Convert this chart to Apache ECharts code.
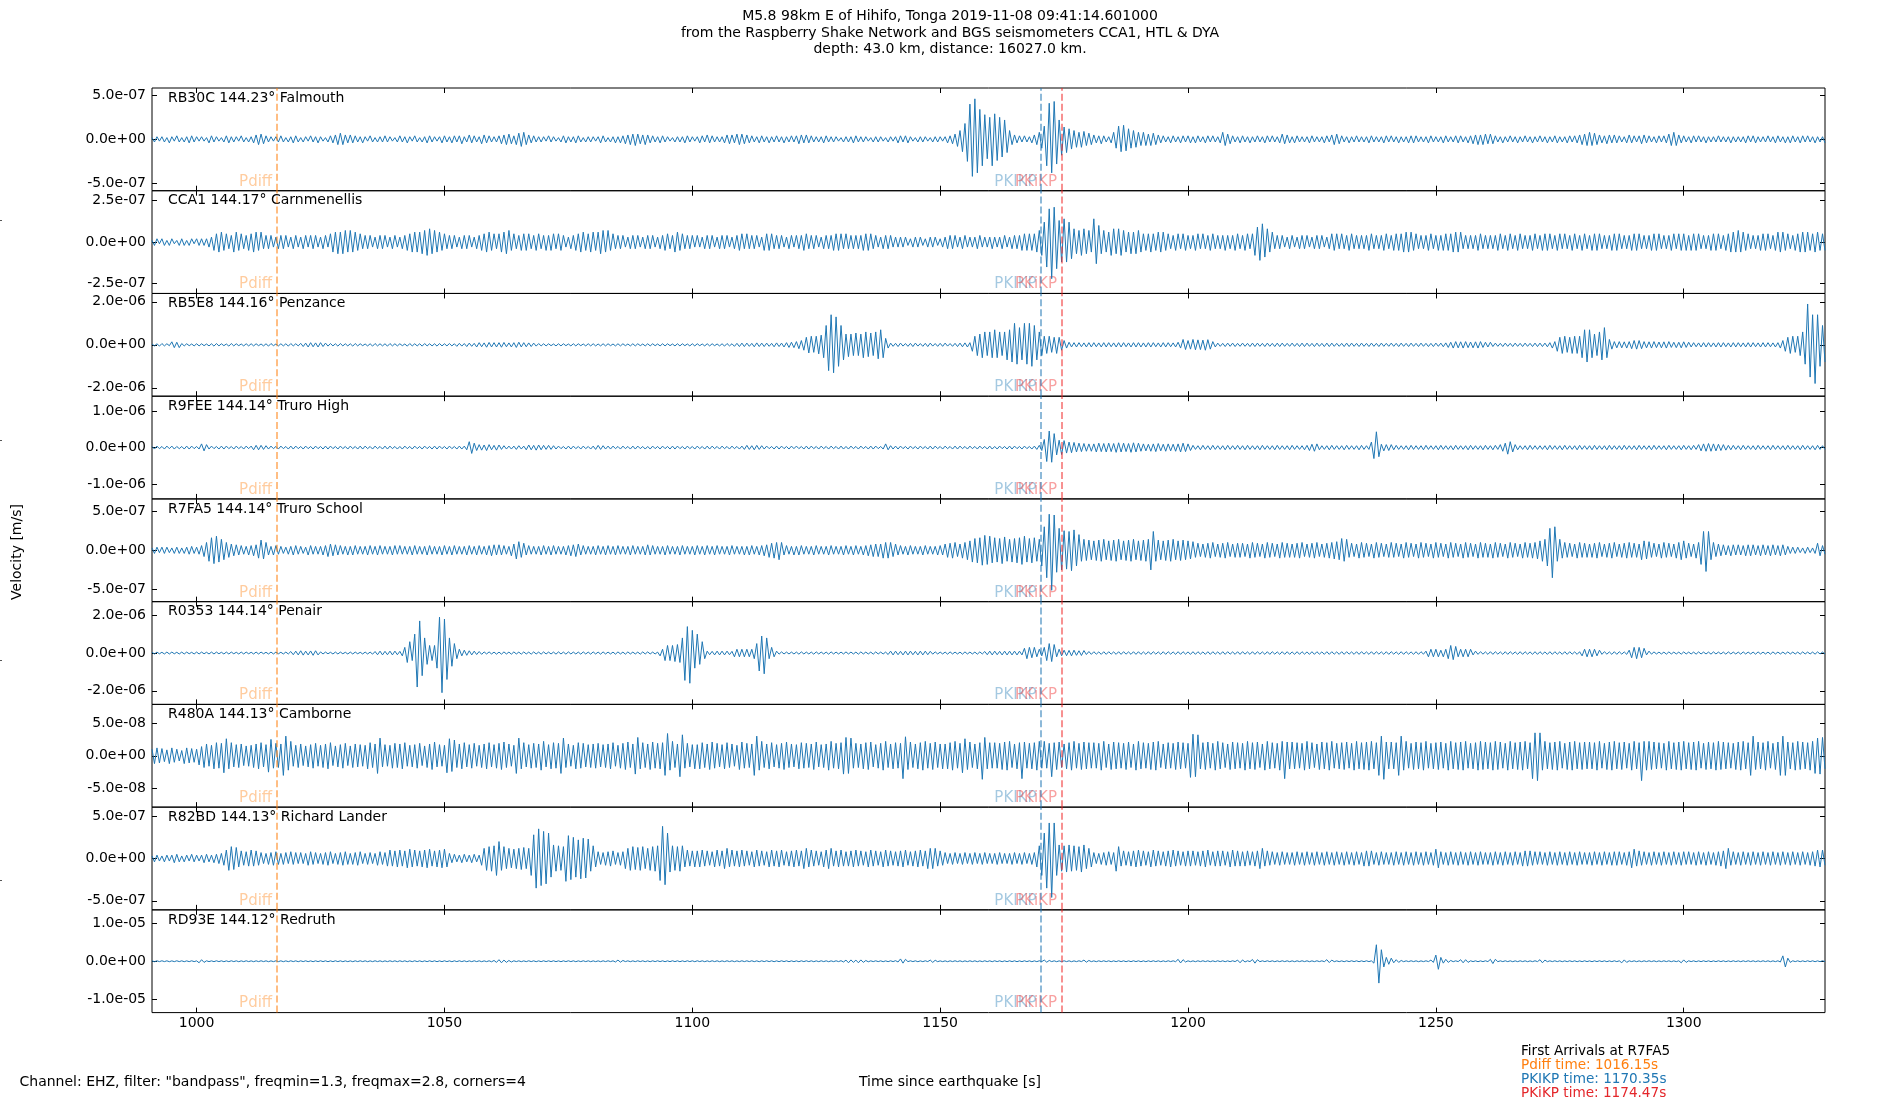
<!DOCTYPE html>
<html>
<head>
<meta charset="utf-8">
<script src="https://cdn.jsdelivr.net/npm/echarts@6/dist/echarts.min.js"></script>
<style>html,body{margin:0;padding:0;background:#fff}#c{width:1900px;height:1100px}</style>
</head>
<body>
<div id="c"></div>
<script>
// ---------- chart data ----------
const stations  = ['RB30C','CCA1','RB5E8','R9FEE','R7FA5','R0353','R480A','R82BD','RD93E'];
const distances = ['144.23','144.17','144.16','144.14','144.14','144.14','144.13','144.13','144.12'];
const places    = ['Falmouth','Carnmenellis','Penzance','Truro High','Truro School','Penair','Camborne','Richard Lander','Redruth'];
const yLimits   = [5.83e-7, 3.09e-7, 2.39e-6, 1.40e-6, 6.55e-7, 2.72e-6, 7.85e-8, 6.07e-7, 1.34e-5];
const yTicks    = [5e-7, 2.5e-7, 2e-6, 1e-6, 5e-7, 2e-6, 5e-8, 5e-7, 1e-5];
const traceUnits= [1e-8, 1e-8, 1e-7, 1e-8, 1e-8, 1e-7, 1e-9, 1e-8, 1e-7];
const xTicks    = [1000,1050,1100,1150,1200,1250,1300];
const xMin = 991, xMax = 1328.5;
const traceStart = 991;   // time of first sample [s]
const traceStep = 0.5;    // seconds between samples
const phaseNames = ['Pdiff','PKIKP','PKiKP'];
const phaseTimes = [1016.15, 1170.35, 1174.47];
const firstArrivalStation = 'R7FA5';

// RB30C (units 1e-8 m/s), one row = 10 s
const rb30c = [
2,-3,3,-2,3,-3,2,-4,3,-2,4,-3,2,-3,3,-4,4,-3,3,-2,
3,-2,2,-4,4,-3,3,-2,2,-3,4,-4,3,-3,3,-2,4,-3,2,-3,
3,-4,5,-6,6,-5,4,-3,3,-2,3,-3,4,-3,2,-3,3,-4,4,-3,
2,-3,3,-2,4,-3,3,-4,3,-2,2,-3,4,-4,5,-6,7,-6,5,-4,
5,-4,4,-3,3,-4,3,-2,4,-3,2,-3,3,-3,4,-3,3,-2,2,-3,
4,-3,3,-4,3,-2,4,-3,2,-3,3,-4,4,-3,3,-2,3,-4,4,-3,
3,-4,4,-3,4,-5,3,-3,5,-4,4,-3,3,-5,5,-4,4,-3,3,-3,
4,-5,5,-6,6,-5,4,-6,7,-8,8,-6,5,-4,4,-3,3,-3,3,-2,
4,-3,3,-2,2,-3,4,-4,3,-3,3,-4,4,-3,2,-3,3,-3,3,-2,
3,-4,4,-3,2,-3,3,-4,3,-4,4,-5,5,-6,6,-7,6,-5,5,-6,
5,-4,4,-3,3,-4,4,-3,3,-2,2,-3,3,-3,3,-4,4,-3,3,-2,
3,-4,4,-3,5,-4,4,-3,3,-3,3,-4,5,-5,5,-4,6,-6,6,-5,
5,-4,4,-3,3,-4,4,-3,3,-4,3,-3,4,-3,3,-4,3,-3,4,-3,
4,-5,5,-4,5,-4,4,-3,3,-3,3,-4,4,-3,3,-3,3,-2,2,-3,
3,-3,3,-4,4,-3,3,-3,3,-2,2,-3,3,-3,3,-2,2,-3,3,-2,
3,-4,4,-3,4,-4,3,-2,2,-3,3,-3,3,-2,2,-3,3,-3,3,-2,
3,-4,4,-5,6,-8,10,-14,18,-25,40,-42,46,-38,34,-30,28,-22,25,-30,
29,-24,25,-20,22,-15,10,-6,5,-4,4,-3,4,-3,3,-4,5,-6,8,-10,
15,-30,41,-38,43,-28,22,-18,14,-15,12,-11,10,-9,8,-9,9,-7,7,-6,
5,-4,4,-5,4,-3,3,-4,8,-10,15,-14,16,-13,12,-10,10,-9,8,-7,
8,-7,6,-7,7,-6,5,-4,4,-3,3,-4,4,-3,3,-4,4,-3,4,-4,
3,-4,4,-3,3,-4,4,-3,4,-3,3,-4,8,-7,6,-5,4,-3,3,-4,
4,-3,3,-4,3,-3,4,-3,3,-4,4,-3,4,-3,3,-4,6,-5,5,-4,
3,-4,4,-3,3,-3,3,-4,4,-3,3,-3,3,-4,4,-3,5,-6,6,-5,
4,-3,3,-4,3,-3,4,-3,3,-3,3,-4,4,-3,3,-3,3,-4,4,-3,
4,-3,3,-4,3,-3,3,-4,4,-4,4,-3,3,-3,3,-4,4,-3,3,-3,
3,-4,4,-3,3,-3,4,-4,4,-3,3,-4,4,-5,5,-6,5,-6,6,-5,
6,-5,4,-3,3,-4,3,-3,4,-3,3,-4,3,-3,4,-3,3,-4,3,-3,
4,-3,3,-4,3,-3,4,-4,3,-3,3,-4,4,-3,4,-4,5,-6,6,-7,
8,-7,7,-6,5,-4,4,-5,5,-4,5,-4,4,-3,3,-4,5,-4,4,-3,
4,-5,5,-4,4,-3,3,-4,4,-3,4,-4,6,-7,8,-7,5,-4,4,-3,
3,-4,4,-3,4,-3,3,-4,3,-3,3,-3,4,-3,3,-3,3,-4,3,-3,
3,-3,3,-4,4,-3,4,-4,3,-3,3,-3,4,-3,3,-4,4,-3,3,-4,
3,-4,4,-3,3,-4,4,-3,4,-3,3,-4,3,-3,3,-4];

// CCA1 (units 1e-8 m/s)
const cca1 = [
1,-2,2,-1,2,-2,1,-2,2,-1,1,-2,2,-2,1,-2,2,-1,2,-2,
2,-2,2,-3,3,-5,5,-6,6,-5,5,-4,4,-6,6,-5,5,-4,4,-5,
5,-6,6,-5,6,-4,4,-4,4,-3,3,-4,4,-4,4,-3,3,-4,4,-3,
3,-4,4,-3,4,-4,4,-3,3,-4,4,-3,5,-6,6,-7,6,-7,7,-6,
7,-6,6,-5,5,-4,4,-4,4,-3,3,-4,4,-4,4,-3,3,-4,4,-3,
3,-4,4,-5,5,-6,6,-6,6,-7,7,-8,8,-7,7,-6,6,-5,5,-4,
4,-4,4,-3,3,-4,4,-4,4,-3,3,-4,4,-5,5,-6,6,-5,5,-4,
5,-6,6,-7,7,-5,5,-4,4,-5,5,-5,5,-4,4,-5,5,-4,4,-5,
4,-5,5,-4,5,-5,4,-3,3,-4,4,-5,5,-6,6,-5,5,-6,6,-5,
6,-7,7,-6,7,-5,5,-4,4,-4,4,-3,3,-4,4,-4,4,-3,3,-4,
4,-4,4,-3,3,-4,4,-5,5,-4,4,-6,6,-5,5,-4,4,-4,4,-3,
4,-3,3,-4,4,-4,4,-3,3,-4,4,-4,4,-3,3,-4,4,-5,5,-4,
5,-4,4,-4,4,-3,3,-5,5,-5,5,-4,4,-4,4,-3,3,-4,4,-3,
4,-4,4,-5,5,-4,4,-4,4,-3,3,-4,4,-4,4,-5,5,-5,5,-4,
5,-4,4,-4,4,-4,4,-5,5,-5,5,-4,4,-3,3,-4,4,-4,4,-3,
3,-3,3,-3,3,-2,2,-3,3,-3,3,-2,2,-3,3,-3,3,-2,2,-3,
3,-4,4,-4,4,-3,3,-4,4,-3,3,-3,3,-4,4,-3,3,-3,3,-4,
3,-3,3,-4,4,-3,3,-4,4,-4,4,-5,5,-5,5,-5,5,-6,7,-8,
12,-15,20,-22,21,-16,13,-12,14,-12,12,-10,8,-7,7,-8,8,-7,7,-6,
14,-13,10,-7,7,-6,6,-8,8,-7,8,-8,7,-6,6,-7,6,-7,7,-6,
5,-5,5,-6,5,-5,6,-6,6,-5,5,-4,4,-5,5,-4,5,-5,4,-4,
4,-5,5,-4,5,-4,4,-5,5,-4,4,-4,4,-5,4,-4,4,-5,5,-4,
4,-5,5,-4,5,-8,9,-11,11,-9,8,-6,6,-4,4,-4,4,-3,3,-4,
4,-3,3,-4,4,-4,4,-3,3,-4,4,-4,4,-3,3,-4,5,-5,5,-4,
5,-4,4,-5,5,-4,4,-4,4,-4,4,-5,5,-4,4,-4,4,-5,5,-4,
4,-5,5,-5,5,-6,6,-6,6,-5,5,-4,4,-4,4,-5,5,-4,4,-5,
4,-5,5,-5,5,-6,6,-6,6,-4,4,-4,4,-4,4,-5,5,-4,4,-4,
4,-4,4,-5,5,-4,4,-5,5,-4,4,-5,5,-4,4,-4,4,-5,5,-4,
4,-5,5,-5,5,-4,4,-5,5,-4,5,-4,4,-5,5,-4,4,-5,5,-4,
4,-5,5,-5,5,-4,4,-4,4,-5,5,-5,5,-4,4,-4,4,-5,5,-5,
5,-4,4,-4,4,-5,5,-5,5,-4,4,-4,4,-5,5,-4,5,-5,5,-5,
4,-5,5,-5,5,-4,4,-4,4,-5,5,-5,5,-4,4,-5,5,-6,6,-6,
7,-6,6,-5,5,-4,4,-4,4,-5,5,-5,5,-4,4,-5,6,-6,6,-5,
5,-4,4,-5,5,-6,6,-6,6,-5,5,-6,6,-5,5,-5];

// RB5E8 (units 1e-7 m/s)
const rb5e8 = [
0.4,-0.5,0.5,-0.6,0.6,-0.5,0.5,-0.4,1.4,-1.3,1.2,-1.3,0.6,-0.5,0.5,-0.4,0.4,-0.5,0.5,-0.5,
0.5,-0.4,0.4,-0.5,0.5,-0.6,0.6,-0.5,0.5,-0.4,0.4,-0.6,0.6,-0.5,0.5,-0.4,0.4,-0.5,0.5,-0.5,
0.5,-0.5,0.5,-0.4,0.4,-0.5,0.5,-0.6,0.6,-0.4,0.4,-0.5,0.5,-0.5,0.5,-0.6,0.6,-0.5,0.5,-0.5,
0.7,-0.8,0.8,-1,1,-0.9,0.9,-1,1,-0.8,0.8,-0.6,0.6,-0.5,0.5,-0.6,0.6,-0.5,0.5,-0.5,
0.5,-0.6,0.6,-0.5,0.5,-0.4,0.4,-0.5,0.5,-0.6,0.6,-0.5,0.5,-0.5,0.5,-0.6,0.6,-0.5,0.5,-0.5,
0.5,-0.4,0.4,-0.6,0.6,-0.5,0.5,-0.5,0.5,-0.6,0.6,-0.5,0.5,-0.5,0.5,-0.6,0.6,-0.5,0.5,-0.5,
0.6,-0.5,0.5,-0.7,0.7,-0.6,0.6,-0.8,0.8,-0.7,0.7,-1,1,-0.9,0.9,-1.1,1.1,-1,1,-1,
1,-1.1,1.1,-0.9,0.9,-1,1,-1.2,1.2,-1,1,-0.9,0.9,-0.8,0.8,-0.6,0.6,-0.5,0.5,-0.5,
0.5,-0.4,0.4,-0.5,0.5,-0.5,0.5,-0.4,0.4,-0.5,0.5,-0.5,0.5,-0.4,0.4,-0.5,0.5,-0.5,0.5,-0.5,
0.4,-0.5,0.5,-0.5,0.5,-0.4,0.4,-0.5,0.5,-0.5,0.5,-0.4,0.4,-0.5,0.5,-0.5,0.5,-0.4,0.4,-0.5,
0.5,-0.5,0.5,-0.4,0.4,-0.5,0.5,-0.5,0.5,-0.4,0.4,-0.5,0.5,-0.5,0.5,-0.4,0.4,-0.5,0.5,-0.5,
0.5,-0.4,0.4,-0.5,0.5,-0.5,0.5,-0.4,0.4,-0.5,0.5,-0.6,0.6,-0.5,0.5,-0.7,0.7,-0.8,0.8,-0.8,
0.8,-0.7,0.7,-0.9,0.9,-0.8,0.8,-0.8,0.8,-0.7,0.7,-0.9,0.9,-0.8,0.8,-1,1,-1.2,1.2,-1.3,
1.5,-1.8,2,-2.5,3.5,-3.8,4,-3.5,4,-4.2,4.5,-6,9,-12,14,-13,13,-10,9,-7,
5,-5.5,5,-5,5.5,-5,5,-6,6,-5.5,5.5,-5,6,-6.5,7,-6,3,-1.5,0.8,-0.7,
0.7,-0.8,0.8,-0.6,0.6,-0.7,0.7,-0.8,0.8,-0.6,0.6,-0.7,0.7,-0.8,0.8,-0.6,0.6,-0.7,0.7,-0.7,
0.8,-0.6,0.6,-0.7,0.7,-0.8,0.8,-0.9,0.9,-1,1,-3,4,-5,5,-6,6,-5,6,-6,
7,-6,6,-5,6,-7,7,-8,10,-9,8,-7,10,-9,10,-10,9,-7,6,-5,
4,-4,4,-3.5,3.5,-4,3.5,-2.5,2,-1.5,1.2,-1,1,-1,1,-0.9,0.9,-1,1,-1,
1,-0.9,0.9,-1,1,-1,1,-0.9,0.9,-1,1,-1,1,-0.9,0.9,-1,1,-1,1,-1,
0.9,-1,1,-1,1,-0.9,0.9,-1,1,-1,1,-0.9,0.9,-1,1.2,-1.5,2.5,-2.2,2,-2,
2.5,-2.3,2.3,-2.2,2.2,-2.5,2.4,-2,1.5,-1,0.8,-0.7,0.7,-0.8,0.8,-0.7,0.8,-0.8,0.7,-0.7,
0.8,-0.7,0.7,-0.8,0.8,-0.8,0.8,-0.7,0.7,-0.8,0.8,-0.7,0.7,-0.8,0.8,-0.8,0.8,-0.7,0.7,-0.7,
0.8,-0.7,0.7,-0.8,0.8,-0.8,0.8,-0.7,0.7,-0.8,0.8,-0.7,0.7,-0.8,0.8,-0.8,0.8,-0.7,0.7,-0.7,
0.7,-0.8,0.8,-0.8,0.8,-0.7,0.7,-0.8,0.8,-0.7,0.7,-0.8,0.8,-0.7,0.7,-0.8,0.8,-0.7,0.7,-0.7,
0.8,-0.7,0.7,-0.8,0.8,-0.7,0.7,-0.8,0.8,-0.7,0.7,-0.8,0.8,-0.7,0.7,-0.8,0.7,-0.8,0.8,-0.7,
0.8,-0.9,0.9,-1.2,1.2,-1.5,1.5,-1.4,1.4,-1.5,1.5,-1.3,1.3,-1.4,1.4,-1.5,1.5,-1.2,1.2,-1,
1.2,-0.8,0.8,-0.7,0.7,-0.8,0.8,-0.7,0.7,-0.8,0.8,-0.7,0.7,-0.8,0.8,-0.7,0.7,-0.8,0.8,-0.8,
0.8,-0.8,0.8,-0.9,1,-1.5,1.5,-3,3.5,-4,4,-3.5,3.5,-4,4,-4,4,-6,7,-8,
7,-6,5,-5,6,-7,8,-6,2.5,-2,1.5,-1.4,1.5,-1.4,1.4,-1.5,1.5,-1.8,2,-2,
2,-1.8,1.5,-1.4,1.4,-1.5,1.5,-1.3,1.3,-1.4,1.4,-1.5,1.5,-1.2,1.2,-1.3,1.2,-1.4,1.4,-1.2,
1.2,-1,1,-0.9,0.9,-1,1,-1,1,-0.9,0.9,-1,1,-1,1,-0.9,0.9,-1,1,-1,
1,-0.9,0.9,-1,1,-1,1,-0.9,0.9,-1,1,-1,1,-0.9,0.9,-1,1,-1.5,2,-3,
3.5,-4,4,-3.5,4,-5,6,-9,19,-15,14,-18,14,-10,9,-8];

// R9FEE (units 1e-8 m/s)
const r9fee = [
3,-4,4,-3,3,-4,4,-3,4,-4,3,-3,3,-4,4,-4,4,-3,3,-4,
10,-9,8,-4,4,-3,3,-4,4,-4,4,-3,3,-4,4,-3,3,-4,4,-3,
4,-6,6,-6,6,-5,5,-4,4,-3,3,-4,4,-3,3,-4,4,-4,4,-3,
3,-4,4,-3,3,-4,4,-3,3,-4,4,-4,4,-3,3,-4,4,-3,3,-4,
4,-3,3,-4,4,-4,4,-3,3,-4,4,-3,3,-4,4,-4,4,-3,3,-4,
3,-4,4,-3,3,-4,4,-3,3,-4,4,-3,3,-4,4,-4,4,-3,3,-4,
4,-3,3,-4,4,-4,4,-6,16,-16,12,-8,8,-7,7,-8,8,-6,6,-7,
7,-5,5,-4,4,-4,4,-5,5,-4,4,-6,7,-6,6,-7,7,-6,6,-5,
6,-5,5,-4,4,-3,3,-4,4,-4,4,-3,3,-4,4,-3,3,-4,4,-5,
6,-5,5,-4,4,-4,4,-3,3,-4,4,-3,3,-4,4,-4,4,-3,3,-4,
3,-4,4,-3,3,-4,4,-3,3,-4,4,-4,4,-3,3,-4,4,-3,3,-4,
4,-3,3,-4,4,-4,4,-3,3,-4,4,-3,3,-4,4,-3,3,-4,4,-5,
6,-5,5,-6,6,-5,5,-4,4,-3,3,-4,4,-4,4,-3,3,-4,4,-3,
4,-3,3,-4,4,-4,4,-3,3,-4,4,-3,3,-4,4,-3,3,-4,4,-4,
3,-4,4,-3,3,-4,4,-3,3,-4,4,-4,4,-3,3,-4,10,-6,5,-4,
4,-4,4,-3,3,-4,4,-3,3,-4,4,-3,3,-4,4,-4,4,-3,3,-4,
4,-3,3,-4,4,-4,4,-3,3,-4,4,-3,3,-4,4,-3,3,-4,4,-4,
3,-4,4,-3,3,-4,4,-4,4,-3,3,-4,4,-3,3,-4,4,-5,6,-8,
22,-38,45,-40,38,-20,20,-19,19,-15,15,-14,14,-12,12,-11,11,-10,10,-10,
10,-12,12,-11,11,-12,12,-11,11,-13,13,-12,12,-11,11,-13,13,-12,12,-10,
10,-9,9,-10,10,-11,11,-9,9,-10,10,-9,9,-10,10,-12,12,-11,10,-8,
6,-5,5,-6,6,-5,5,-6,6,-5,5,-5,5,-6,6,-5,5,-5,6,-5,
5,-6,6,-5,5,-5,5,-6,6,-5,5,-5,5,-6,6,-5,5,-5,5,-6,
6,-5,5,-5,5,-6,6,-8,9,-10,10,-6,5,-5,5,-6,6,-5,5,-5,
5,-6,6,-5,5,-5,5,-6,6,-5,5,-5,15,-30,43,-25,9,-9,8,-8,
8,-6,6,-5,5,-5,5,-6,6,-5,5,-5,5,-6,6,-5,5,-5,5,-6,
6,-5,5,-5,5,-6,6,-5,5,-5,5,-6,6,-5,5,-5,5,-6,6,-5,
5,-6,6,-5,8,-10,12,-18,16,-12,8,-6,5,-5,5,-6,6,-5,5,-5,
5,-5,5,-6,6,-5,5,-5,5,-6,6,-5,5,-5,5,-6,6,-5,5,-5,
5,-6,6,-5,5,-5,5,-6,6,-5,5,-5,5,-6,6,-5,5,-5,5,-6,
6,-5,5,-5,5,-6,6,-5,5,-5,5,-6,6,-5,5,-5,5,-6,6,-5,
5,-6,6,-5,8,-9,10,-10,11,-10,10,-9,9,-8,8,-7,6,-6,6,-5,
5,-6,6,-5,5,-5,5,-6,6,-5,5,-5,5,-6,6,-5,5,-5,5,-6,
6,-5,5,-5,5,-6,6,-5,5,-5,5,-6,6,-5,5,-5];

// R7FA5 (units 1e-8 m/s)
const r7fa5 = [
3,-4,4,-3,4,-4,4,-3,3,-4,4,-4,3,-4,4,-5,5,-4,4,-5,
6,-8,10,-14,16,-17,18,-15,14,-12,10,-9,8,-7,7,-6,6,-5,5,-6,
6,-7,7,-10,13,-11,10,-6,5,-6,6,-5,5,-4,4,-5,5,-6,6,-5,
5,-4,4,-6,6,-5,5,-5,5,-6,6,-8,8,-7,7,-6,6,-5,5,-6,
5,-6,6,-5,5,-5,5,-6,6,-5,5,-6,6,-5,5,-5,5,-6,6,-5,
6,-5,5,-5,5,-6,6,-5,5,-5,5,-6,6,-5,5,-5,5,-6,6,-5,
5,-6,6,-5,5,-5,5,-6,6,-5,5,-6,6,-5,5,-6,6,-7,7,-6,
7,-6,6,-5,5,-7,8,-11,11,-9,9,-6,6,-5,5,-5,5,-6,6,-5,
5,-6,6,-5,5,-5,5,-6,6,-7,7,-8,8,-6,6,-5,5,-5,5,-6,
6,-5,5,-6,6,-5,5,-6,6,-5,5,-5,5,-6,6,-5,5,-5,5,-6,
7,-6,6,-5,5,-5,5,-6,6,-5,5,-5,5,-6,6,-5,5,-5,5,-6,
6,-5,5,-6,6,-5,5,-6,6,-5,5,-5,5,-6,6,-5,5,-5,5,-6,
5,-6,6,-5,5,-6,6,-7,7,-9,9,-10,10,-12,10,-6,6,-5,5,-6,
5,-6,6,-5,5,-5,5,-6,6,-5,5,-5,5,-6,6,-5,5,-5,5,-6,
6,-5,5,-6,6,-5,5,-6,6,-7,7,-8,8,-8,8,-10,10,-10,10,-8,
8,-6,6,-5,5,-6,6,-5,5,-5,5,-6,6,-5,5,-5,5,-6,6,-6,
8,-9,9,-10,10,-8,8,-10,10,-12,12,-15,15,-16,16,-19,19,-18,18,-16,
16,-15,15,-17,17,-14,14,-15,15,-16,16,-18,18,-15,15,-16,16,-14,14,-20,
30,-35,46,-51,45,-28,28,-25,25,-24,24,-26,26,-20,20,-14,14,-13,13,-12,
12,-13,13,-14,14,-12,12,-13,13,-14,14,-12,12,-13,13,-14,14,-12,12,-13,
13,-14,14,-25,24,-14,13,-12,12,-13,13,-14,14,-12,12,-13,13,-12,12,-11,
11,-9,9,-8,8,-9,9,-10,10,-8,8,-9,9,-10,10,-8,8,-9,9,-9,
9,-8,8,-10,10,-9,9,-8,8,-10,10,-9,9,-8,8,-10,10,-9,9,-9,
8,-9,9,-10,10,-8,8,-9,9,-10,10,-8,8,-9,9,-10,10,-11,11,-12,
15,-14,14,-9,9,-8,8,-10,10,-9,9,-8,8,-10,10,-9,9,-8,8,-9,
10,-9,9,-8,8,-10,10,-9,9,-8,8,-10,10,-9,9,-8,8,-10,10,-9,
9,-8,8,-10,10,-9,9,-8,8,-10,10,-9,9,-8,8,-10,10,-9,9,-9,
8,-10,10,-9,9,-8,8,-10,10,-9,9,-8,8,-10,10,-9,9,-10,10,-11,
12,-14,14,-20,28,-35,30,-14,14,-10,10,-9,9,-8,8,-10,10,-9,9,-9,
8,-9,9,-10,10,-8,8,-9,9,-10,10,-8,8,-9,9,-10,10,-9,9,-9,
8,-12,12,-11,11,-9,9,-8,8,-10,10,-9,9,-8,8,-10,10,-12,12,-10,
9,-8,8,-10,10,-18,24,-27,24,-12,10,-8,8,-7,7,-6,6,-7,7,-6,
7,-6,6,-7,7,-7,7,-6,6,-7,7,-6,6,-7,7,-6,6,-7,7,-6,
5,-4,4,-4,4,-3,3,-4,4,-3,3,-4,9,-7,6,-5];

// R0353 (units 1e-7 m/s)
const r0353 = [
0.4,-0.5,0.5,-0.4,0.4,-0.5,0.5,-0.5,0.5,-0.4,0.4,-0.5,0.5,-0.5,0.5,-0.4,0.4,-0.5,0.5,-0.5,
0.5,-0.4,0.4,-0.5,0.5,-0.5,0.5,-0.4,0.4,-0.5,0.5,-0.5,0.5,-0.4,0.4,-0.5,0.5,-0.5,0.5,-0.4,
0.4,-0.5,0.5,-0.5,0.5,-0.4,0.4,-0.5,0.5,-0.5,0.5,-0.4,0.4,-0.5,0.5,-0.5,0.8,-0.9,1,-1,
1.2,-1.1,1,-1,1.1,-1.2,1.2,-1,0.6,-0.5,0.5,-0.4,0.4,-0.5,0.5,-0.5,0.5,-0.4,0.4,-0.5,
0.5,-0.5,0.5,-0.4,0.4,-0.5,0.5,-0.5,0.5,-0.6,0.8,-0.9,1,-1,0.9,-0.9,1,-1,1,-0.9,
0.9,-1.5,3,-5,6,-4,10,-18,17,-12,8,-6,4,-4,4,-8,19,-21,18,-14,
8,-7,5,-3,2,-1.5,1.5,-1.2,1.2,-1,1,-0.8,0.8,-0.7,0.6,-0.5,0.6,-0.5,0.5,-0.6,
0.5,-0.6,0.6,-0.5,0.5,-0.6,0.6,-0.5,0.5,-0.6,0.6,-0.5,0.5,-0.6,0.6,-0.5,0.5,-0.6,0.6,-0.5,
0.5,-0.5,0.5,-0.6,0.6,-0.5,0.5,-0.6,0.6,-0.5,0.5,-0.5,0.5,-0.6,0.6,-0.5,0.5,-0.6,0.6,-0.5,
0.5,-0.6,0.6,-0.5,0.5,-0.5,0.5,-0.6,0.6,-0.5,0.5,-0.6,0.6,-0.5,0.5,-0.5,0.5,-0.6,0.6,-0.5,
0.6,-0.5,0.5,-0.5,0.5,-1.5,2,-4,4,-4,4,-4.5,4.5,-5,8,-14.5,14,-16,12,-8,
10,-6,6,-3,1,-0.9,0.9,-1,1,-1,1,-1,1,-0.9,0.9,-2,2,-2,2,-2,
2,-2,2,-3,5,-9.5,9,-11,8,-3,3,-2,1,-0.6,0.6,-0.5,0.5,-0.5,0.5,-0.5,
0.5,-0.6,0.6,-0.5,0.5,-0.5,0.5,-0.6,0.6,-0.5,0.5,-0.5,0.5,-0.6,0.6,-0.5,0.5,-0.5,0.5,-0.5,
0.6,-0.5,0.5,-0.5,0.5,-0.6,0.6,-0.5,0.5,-0.5,0.5,-0.6,0.6,-0.5,0.5,-0.5,0.5,-0.8,1,-1,
1,-0.9,0.9,-1,1,-1,1,-0.9,0.9,-1,1,-1,1,-0.9,0.9,-0.6,0.6,-0.5,0.5,-0.5,
0.5,-0.6,0.6,-0.5,0.5,-0.5,0.5,-0.6,0.6,-0.5,0.5,-0.5,0.5,-0.6,0.6,-0.5,0.8,-0.9,1,-1,
1,-0.9,0.9,-1,1,-1,1,-1,1,-1,1,-1,2.5,-3,3,-2.5,3,-2,2,-1.5,
3,-4,5,-4.5,4.5,-2,2,-1.5,1.5,-1.4,1.4,-1.5,1.5,-1.2,1.2,-1.3,1.3,-0.8,0.8,-0.7,
0.7,-0.6,0.6,-0.7,0.7,-0.7,0.7,-0.6,0.6,-0.7,0.7,-0.7,0.7,-0.6,0.6,-0.7,0.7,-0.7,0.7,-0.7,
0.6,-0.7,0.7,-0.7,0.7,-0.6,0.6,-0.7,0.7,-0.7,0.7,-0.6,0.6,-0.7,0.7,-0.7,0.7,-0.6,0.6,-0.7,
0.7,-0.7,0.7,-0.6,0.6,-0.7,0.7,-0.7,0.7,-0.6,0.6,-0.7,0.7,-0.7,0.7,-0.6,0.6,-0.7,0.7,-0.7,
0.7,-0.6,0.6,-0.7,0.7,-0.7,0.7,-0.6,0.6,-0.7,0.7,-0.7,0.7,-0.6,0.6,-0.7,0.7,-0.7,0.7,-0.7,
0.6,-0.7,0.7,-0.7,0.7,-0.6,0.6,-0.7,0.7,-0.7,0.7,-0.6,0.6,-0.7,0.7,-0.7,0.7,-0.6,0.6,-0.7,
0.7,-0.7,0.7,-0.6,0.6,-0.7,0.7,-0.7,0.7,-0.6,0.6,-0.7,0.7,-0.7,0.7,-0.6,0.6,-0.7,0.7,-0.7,
0.7,-0.6,0.6,-0.7,0.7,-0.7,0.7,-0.6,0.6,-0.7,0.7,-0.7,0.7,-0.6,1,-2,2,-2,2,-2,
1.5,-2,2,-3,4,-3.5,3.5,-2,2,-2,2,-2,2,-1,1,-0.7,0.7,-0.6,0.6,-0.7,
0.7,-0.7,0.7,-0.6,0.6,-0.7,0.7,-0.7,0.7,-0.6,0.6,-0.7,0.7,-0.7,0.7,-0.6,0.6,-0.7,0.7,-0.7,
0.7,-0.6,0.6,-0.7,0.7,-0.7,0.7,-0.6,0.6,-0.7,0.7,-0.7,0.7,-0.6,0.6,-0.7,0.7,-1.5,2,-2,
2,-2,2,-1.5,1.5,-0.7,0.7,-0.6,0.6,-0.7,0.7,-0.7,0.7,-0.6,0.6,-0.7,1.5,-2.5,3,-3,
3,-2.5,2.5,-1,1,-0.6,0.6,-0.5,0.5,-0.5,0.5,-0.6,0.6,-0.5,0.5,-0.5,0.5,-0.6,0.6,-0.5,
0.5,-0.5,0.5,-0.6,0.6,-0.5,0.5,-0.5,0.5,-0.6,0.6,-0.5,0.5,-0.5,0.5,-0.6,0.6,-0.5,0.5,-0.5,
0.5,-0.6,0.6,-0.5,0.5,-0.5,0.5,-0.6,0.6,-0.5,0.5,-0.5,0.5,-0.6,0.6,-0.5,0.5,-0.5,0.5,-0.5,
0.6,-0.5,0.5,-0.5,0.5,-0.6,0.6,-0.5,0.5,-0.5,0.5,-0.6,0.6,-0.5,0.5,-0.5];

// R480A (units 1e-9 m/s)
const r480a = [
10,-12,12,-11,11,-9,9,-12,12,-10,10,-8,8,-12,12,-11,11,-10,10,-14,
14,-18,18,-16,16,-20,20,-19,19,-26,26,-20,20,-17,17,-18,18,-15,15,-16,
16,-18,18,-20,20,-17,17,-25,25,-19,19,-18,18,-30,30,-22,22,-16,16,-18,
18,-15,15,-17,17,-19,19,-16,16,-18,18,-20,20,-15,15,-17,17,-19,19,-15,
15,-18,18,-17,17,-16,16,-20,20,-18,18,-27,27,-17,17,-16,16,-19,19,-18,
18,-20,20,-16,16,-17,17,-19,19,-15,15,-18,18,-21,21,-17,17,-16,16,-26,
26,-24,24,-18,18,-20,20,-17,17,-19,19,-16,16,-18,18,-20,20,-17,17,-19,
19,-21,21,-18,18,-16,16,-27,27,-20,20,-17,17,-19,19,-18,18,-22,22,-17,
17,-20,20,-19,19,-27,27,-18,18,-16,16,-20,20,-19,19,-17,17,-18,18,-19,
19,-17,17,-18,18,-20,20,-16,16,-19,19,-21,21,-18,18,-28,28,-20,20,-18,
18,-21,21,-19,19,-20,20,-30,34,-22,22,-18,18,-32,32,-19,19,-17,17,-20,
17,-20,20,-18,18,-21,21,-19,19,-17,17,-20,20,-18,18,-16,16,-21,21,-19,
19,-18,18,-30,30,-22,22,-18,18,-20,20,-17,17,-19,19,-21,21,-18,18,-17,
17,-20,20,-19,19,-18,18,-21,21,-17,17,-18,18,-22,22,-19,19,-20,20,-28,
28,-27,27,-19,19,-18,18,-20,20,-21,21,-17,17,-19,19,-22,22,-18,18,-20,
20,-19,19,-35,29,-21,21,-18,18,-20,20,-22,22,-19,19,-21,21,-18,18,-20,
18,-20,20,-22,22,-19,19,-26,26,-21,21,-18,18,-20,20,-36,28,-20,20,-19,
20,-19,19,-21,21,-22,22,-18,18,-20,20,-35,21,-19,19,-20,20,-22,22,-19,
22,-19,19,-32,20,-21,21,-18,18,-20,20,-22,22,-19,19,-21,21,-20,20,-19,
20,-19,19,-22,22,-18,18,-21,21,-20,20,-19,19,-21,21,-18,18,-22,22,-20,
20,-19,19,-21,21,-22,22,-18,18,-20,20,-19,19,-21,21,-20,20,-19,19,-33,
33,-32,32,-20,20,-21,21,-19,19,-22,22,-20,20,-18,18,-21,21,-20,20,-19,
19,-22,22,-20,20,-21,21,-18,18,-22,22,-20,20,-19,19,-22,22,-35,21,-20,
21,-20,20,-19,19,-22,22,-20,20,-18,18,-21,21,-20,20,-22,22,-19,19,-20,
20,-21,21,-19,19,-22,22,-20,20,-21,21,-22,22,-20,20,-30,30,-36,21,-20,
21,-20,20,-30,30,-22,22,-19,19,-21,21,-20,20,-22,22,-19,19,-20,20,-21,
21,-19,19,-22,22,-20,20,-21,21,-22,22,-19,19,-20,20,-22,22,-21,21,-20,
20,-22,22,-21,21,-19,19,-22,22,-20,20,-21,21,-22,22,-20,20,-35,35,-38,
35,-22,22,-20,20,-21,21,-22,22,-19,19,-21,21,-22,22,-20,20,-21,21,-20,
21,-20,20,-22,22,-19,19,-21,21,-22,22,-20,20,-21,21,-19,19,-22,22,-20,
20,-38,22,-22,22,-21,21,-20,20,-19,19,-22,22,-20,20,-21,21,-22,22,-20,
20,-21,21,-22,22,-19,19,-21,21,-20,20,-22,22,-21,21,-20,20,-19,19,-21,
21,-22,22,-20,20,-30,30,-21,21,-20,20,-22,22,-19,19,-21,21,-30,30,-30,
21,-20,20,-22,22,-21,21,-20,20,-22,22,-27,27,-28,28,-20];

// R82BD (units 1e-8 m/s)
const r82bd = [
3,-4,4,-3,3,-4,4,-3,4,-5,5,-4,3,-4,4,-3,5,-4,4,-3,
4,-5,5,-4,4,-5,5,-6,6,-8,10,-14,14,-13,13,-10,9,-8,8,-9,
10,-9,9,-8,7,-6,6,-7,7,-8,8,-7,6,-7,7,-6,8,-7,7,-6,
7,-6,6,-8,8,-7,7,-6,6,-7,7,-8,8,-6,6,-7,7,-8,8,-7,
6,-7,7,-8,8,-6,6,-7,7,-6,6,-8,8,-7,7,-9,10,-9,9,-10,
10,-9,9,-11,11,-10,10,-9,9,-10,10,-11,11,-9,9,-10,10,-11,11,-10,
6,-5,5,-4,4,-5,5,-4,4,-5,5,-4,4,-8,12,-14,14,-15,15,-20,
20,-14,14,-12,12,-11,11,-12,12,-13,13,-12,12,-20,28,-35,35,-32,32,-30,
30,-22,16,-15,15,-14,14,-27,27,-25,25,-22,22,-24,24,-23,23,-15,15,-10,
8,-7,7,-8,8,-9,9,-7,7,-8,8,-12,12,-14,14,-13,13,-14,14,-12,
12,-14,14,-15,15,-26,38,-31,30,-16,15,-14,14,-15,15,-10,10,-9,9,-10,
9,-10,10,-9,9,-8,8,-10,10,-9,9,-12,12,-10,10,-9,9,-10,10,-9,
9,-8,8,-10,10,-9,9,-8,8,-10,10,-9,9,-10,10,-8,8,-9,9,-10,
10,-9,9,-12,12,-10,10,-9,9,-8,8,-10,10,-12,12,-9,9,-10,10,-9,
8,-9,9,-10,10,-9,9,-8,8,-10,10,-9,9,-8,8,-10,10,-9,9,-8,
8,-9,9,-10,10,-8,8,-9,9,-10,10,-9,9,-12,12,-12,12,-9,9,-8,
7,-6,6,-7,7,-6,6,-7,7,-6,6,-7,7,-6,6,-7,7,-6,6,-6,
6,-7,7,-6,6,-6,6,-7,7,-6,6,-7,7,-6,6,-7,7,-10,15,-20,
30,-35,42,-46,42,-20,16,-15,15,-16,16,-15,15,-14,14,-16,16,-12,12,-10,
7,-6,6,-7,7,-8,8,-7,7,-15,14,-9,9,-8,8,-9,9,-10,10,-9,
9,-8,8,-10,10,-9,9,-8,8,-9,9,-10,10,-9,9,-8,8,-9,9,-9,
9,-8,8,-9,9,-10,10,-8,8,-9,9,-9,9,-8,8,-10,10,-9,9,-9,
8,-9,9,-8,8,-9,9,-12,12,-9,9,-8,8,-7,7,-8,8,-7,7,-7,
7,-8,8,-7,7,-8,8,-7,7,-8,8,-7,7,-8,8,-7,7,-8,8,-7,
7,-8,8,-7,7,-8,8,-7,7,-9,9,-9,9,-7,7,-8,8,-7,7,-7,
7,-8,8,-7,7,-8,8,-7,7,-8,8,-7,7,-8,8,-7,7,-8,11,-11,
8,-7,7,-8,8,-7,7,-8,8,-7,7,-8,8,-7,7,-8,8,-7,7,-7,
7,-8,8,-7,7,-8,8,-7,7,-8,8,-7,7,-9,9,-9,9,-8,8,-7,
8,-7,7,-8,8,-7,7,-8,8,-7,7,-8,8,-7,7,-8,8,-7,7,-7,
7,-8,8,-7,7,-8,8,-7,7,-8,8,-8,8,-7,7,-8,8,-11,11,-9,
9,-8,8,-7,7,-8,8,-7,7,-8,8,-7,7,-8,8,-7,7,-8,8,-7,
8,-7,7,-8,8,-7,7,-8,8,-7,7,-8,8,-9,9,-12,12,-8,8,-7,
7,-8,8,-7,7,-8,8,-7,7,-8,8,-7,7,-8,8,-7,7,-8,8,-7,
7,-8,8,-7,7,-8,8,-7,7,-8,8,-9,10,-10,10,-8];

// RD93E (units 1e-7 m/s)
const rd93e = [
1,-1.2,1.1,-1,1.2,-1,1.1,-1.2,1,-1.1,1.2,-1,1.1,-1.2,1,-1.1,1.2,-1,1,-4,
4,-3,1.2,-1,1,-1.1,1.2,-1,1.1,-1.2,1,-1.1,1.2,-1,1.1,-1.2,1,-1.1,1.2,-1,
1,-1.2,1.1,-1,1.2,-1,1.1,-1.2,1,-1.1,1.2,-1,1.1,-1.2,1,-1.1,1.2,-1,1.1,-1.2,
1.1,-1,1.2,-1.1,1,-1.2,1.1,-1,1.2,-1,1.1,-1.2,1,-1.1,1.2,-1,1.1,-1.2,1,-1.1,
1,-1.2,1.1,-1,1.2,-1,1.1,-1.2,1,-1.1,1.2,-1,1.1,-1.2,1,-1.1,1.2,-1,1.1,-1.2,
1.2,-1,1.1,-1.2,1,-1.1,1.2,-1,1.1,-1.2,1,-1.1,1.2,-1,1.1,-1.2,1,-1.1,1.2,-1,
1,-1.2,1.1,-1,1.2,-1,1.1,-1.2,1,-1.1,1.2,-1,1.1,-1.2,1,-1.1,1.2,-1.5,2,-3,
4,-4,3,-3,2,-2,1.2,-1,1.1,-1.2,1,-1.1,1.2,-1,1.1,-1.2,1,-1.1,1.2,-1,
1.1,-1,1.2,-1.1,1,-1.2,1.1,-1,1.2,-1,1.1,-1.2,1,-1.1,1.2,-1,1.1,-1.2,1,-1.1,
1,-1.2,1.1,-1,1.2,-1,1.1,-2,3,-2.5,2,-1,1.1,-1.2,1,-1.1,1.2,-1,1.1,-1.2,
1,-1.2,1.1,-1,1.2,-1,1.1,-1.2,1,-1.1,1.2,-1,1.1,-1.2,1,-1.1,1.2,-1,1.1,-1.2,
1.2,-1,1.1,-1.2,1,-1.1,1.2,-1,1.1,-1.2,1,-1.1,1.2,-1,1.1,-1.2,1,-1.1,1.2,-1,
1.1,-1,1.2,-1.1,1,-1.2,1.1,-1,1.2,-1,1.1,-1.2,1,-1.1,1.2,-1,1.1,-1.2,1,-1.1,
1,-1.2,1.1,-1,1.2,-1,1.1,-1.2,1,-1.1,1.2,-1,1.1,-1.2,1,-1.1,1.2,-1,1.5,-2,
3,-4,3.5,-3,3,-4,3.5,-3,2,-1.5,1.1,-1,1.2,-1,1.1,-1.2,1,-1.1,1.2,-1,
1.5,-2,6,-5,5,-1.1,1.2,-1,1.1,-1.2,1,-1.1,1.2,-1,3,-3,2.5,-1.2,1,-1.1,
1,-1.2,1.1,-1,1.2,-1,1.1,-1.2,1,-1.1,1.2,-1,1.1,-1.2,1,-1.1,1.2,-1,1.1,-1.2,
1.2,-1,1.1,-1.2,1,-1.1,1.2,-1,1.1,-1.2,1,-1.1,1.2,-1,1.1,-1.2,1,-1.1,1.2,-1,
3,-2.5,2,-1,1.1,-1.2,1,-1.1,1.2,-1,1.1,-1.2,1,-1.1,1.2,-1,3,-2.5,2,-1.1,
1,-1.2,1.1,-1,1.2,-1,1.1,-1.2,1,-1.1,1.2,-1,1.1,-1.2,1,-1.1,1.2,-1,1.1,-1.2,
1,-1.2,1.1,-1,1.2,-1,1.1,-1.2,1,-1.1,1.2,-1,1.1,-1.2,5,-4.5,4,-2,1.1,-1.2,
1,-1.2,1.1,-1,1.2,-1,1.1,-1.2,1,-1.1,1.2,-1,1.1,-1.2,1,-1.1,1.2,-1,3,-4,
3.5,-2,1.2,-1,4.5,-5,4,-1.2,1.1,-1,1.2,-1,1.1,-1.2,1,-1.1,1.2,-1,1.1,-1.2,
1,-1.2,1.1,-1,1.2,-1,1.1,-1.2,1,-1.1,1.2,-1,1.1,-1.2,4,-3.5,3,-1.2,1,-1.1,
1,-1.2,1.1,-1,1.2,-1,1.1,-1.2,1,-1.1,1.2,-1,1,-5,43,-57,30,-15,10,-8,
8,-4,4,-3,2,-1.2,1.1,-1,1.2,-1,1.1,-1.2,1,-1.1,1.2,-1,3,-3,16,-21,
10,-5,5,-3,2,-1.2,1.1,-1,4,-4,4,-3,1.2,-1,1.1,-1.2,1,-1.1,1.2,-1,
5,-6,5,-1.2,1.1,-1,1.2,-1,1.1,-1.2,1,-1.1,1.2,-1,1.1,-1.2,1,-1.1,1.2,-1,
4,-4,3,-1.2,1.1,-1,1.2,-1,1.1,-1.2,1,-1.1,1.2,-1,1.1,-1.2,1,-1.1,1.2,-1,
1,-1.2,1.1,-1,1.2,-1,1.1,-1.2,1,-1.1,1.2,-1,1.1,-4,3.5,-3,1.2,-1,1.1,-1.2,
1,-1.2,1.1,-1,1.2,-1,1.1,-1.2,1,-1.1,1.2,-1,1.1,-1.2,1,-1.1,1.2,-4,3.5,-3,
1.2,-1,1.1,-1.2,1,-1.1,1.2,-1,1.1,-1.2,1,-1.1,1.2,-1,1.1,-1.2,1,-1.1,1.2,-1,
1,-1.2,1.1,-1,1.2,-1,1.1,-1.2,1,-1.1,1.2,-1,1.1,-1.2,1,-1.1,1.2,-2,14,-15,
8,-3,1.2,-1,1.1,-1.2,1,-1.1,1.2,-1,1.1,-1.2,1,-1.1,1.2,-1];

const traces = [rb30c, cca1, rb5e8, r9fee, r7fa5, r0353, r480a, r82bd, rd93e];

// ---------- styling / layout ----------
const FONT = 'DejaVu Sans';
const plotLeft = 152, plotRight = 1825, plotTop = 88, plotBottom = 1012.6;
const nP = traces.length;
const ph = (plotBottom - plotTop) / nP;
const traceColor = '#1f77b4';
const phaseLineColors = ['rgba(255,127,14,0.6)', 'rgba(31,119,180,0.6)', 'rgba(240,40,40,0.6)'];
const phaseTextColors = ['rgba(255,127,14,0.5)', 'rgba(31,119,180,0.5)', 'rgba(240,40,40,0.55)'];
const arrivalTextColors = ['#ff7f0e', '#1f77b4', '#e4262a'];

function fmtExp(v) {
  return Number(v).toExponential(1).replace(/e([+-])(\d)$/, 'e$10$2');
}

const grids = [], xAxes = [], yAxes = [], series = [], graphics = [];
for (let i = 0; i < nP; i++) {
  const top = plotTop + i * ph;
  grids.push({left: plotLeft, width: plotRight - plotLeft, top: top, height: ph,
    show: true, borderColor: '#000', borderWidth: 1, backgroundColor: 'rgba(0,0,0,0)'});
  const tickStyle = {show: true, inside: true, length: 5, lineStyle: {color: '#000', width: 1}};
  const noLine = {show: false, onZero: false};
  xAxes.push({gridIndex: i, type: 'value', min: xMin, max: xMax, position: 'bottom',
    axisLine: noLine, splitLine: {show: false},
    axisTick: Object.assign({customValues: xTicks}, tickStyle),
    axisLabel: {show: i === nP - 1, customValues: xTicks, margin: 4, color: '#000', fontSize: 14, fontFamily: FONT,
      formatter: v => String(v)}});
  xAxes.push({gridIndex: i, type: 'value', min: xMin, max: xMax, position: 'top',
    axisLine: noLine, splitLine: {show: false},
    axisTick: Object.assign({customValues: xTicks}, tickStyle),
    axisLabel: {show: false}});
  const lim = yLimits[i], t = yTicks[i];
  const yv = [-t, 0, t];
  yAxes.push({gridIndex: i, type: 'value', min: -lim, max: lim, position: 'left',
    axisLine: noLine, splitLine: {show: false},
    axisTick: Object.assign({customValues: yv}, tickStyle),
    axisLabel: {customValues: yv, formatter: fmtExp, margin: 6, color: '#000', fontSize: 14, fontFamily: FONT}});
  yAxes.push({gridIndex: i, type: 'value', min: -lim, max: lim, position: 'right',
    axisLine: noLine, splitLine: {show: false},
    axisTick: Object.assign({customValues: yv}, tickStyle),
    axisLabel: {show: false}});

  const unit = traceUnits[i];
  const data = traces[i].map((v, k) => [traceStart + k * traceStep, v * unit]);
  series.push({
    type: 'line', xAxisIndex: 2 * i, yAxisIndex: 2 * i, data: data,
    symbol: 'none', showSymbol: false, animation: false, silent: true,
    lineStyle: {color: traceColor, width: 1},
    markLine: {
      silent: true, symbol: ['none', 'none'], animation: false,
      label: {show: false},
      lineStyle: {type: [7, 3], width: 1.7},
      data: phaseTimes.map((pt, k) => ({xAxis: pt, lineStyle: {color: phaseLineColors[k], type: [7, 3], width: 1.7}}))
    }
  });
  series.push({
    type: 'scatter', xAxisIndex: 2 * i, yAxisIndex: 2 * i, symbolSize: 1, silent: true, clip: false,
    animation: false, itemStyle: {color: 'rgba(0,0,0,0)'},
    data: phaseTimes.map((pt, k) => ({name: phaseNames[k], value: [pt, -lim],
      label: {color: phaseTextColors[k]}})),
    label: {show: true, formatter: '{b}', position: 'left', distance: 4, offset: [0, -9],
      fontSize: 15, fontFamily: FONT}
  });
  graphics.push({type: 'text', x: 168, y: top + 10,
    style: {text: stations[i] + ' ' + distances[i] + '\u00b0 ' + places[i], fill: '#000',
      font: '14px "' + FONT + '"', textVerticalAlign: 'middle', textAlign: 'left'}});
}

// outer (figure-level) axis tick stubs at the left edge
grids.push({left: 0, top: 0, width: 10, height: 1100, show: false});
xAxes.push({gridIndex: nP, type: 'value', min: 0, max: 1, show: false});
yAxes.push({gridIndex: nP, type: 'value', min: 0, max: 1, position: 'left',
  axisLine: {show: false, onZero: false}, splitLine: {show: false},
  axisTick: {show: true, inside: true, length: 2, customValues: [0.2, 0.4, 0.6, 0.8], lineStyle: {color: '#555'}},
  axisLabel: {show: false}});

const titleLines = [
  'M5.8 98km E of Hihifo, Tonga 2019-11-08 09:41:14.601000',
  'from the Raspberry Shake Network and BGS seismometers CCA1, HTL & DYA',
  'depth: 43.0 km, distance: 16027.0 km.'
];
titleLines.forEach((s, k) => graphics.push({type: 'text', x: 950, y: 16.7 + k * 16.3,
  style: {text: s, fill: '#000', font: '14px "' + FONT + '"', textAlign: 'center', textVerticalAlign: 'middle'}}));

graphics.push({type: 'text', x: 17, y: 552, rotation: Math.PI / 2,
  style: {text: 'Velocity [m/s]', fill: '#000', font: '14px "' + FONT + '"', textAlign: 'center', textVerticalAlign: 'middle'}});
graphics.push({type: 'text', x: 950, y: 1082,
  style: {text: 'Time since earthquake [s]', fill: '#000', font: '14px "' + FONT + '"', textAlign: 'center', textVerticalAlign: 'middle'}});
graphics.push({type: 'text', x: 19.5, y: 1082,
  style: {text: 'Channel: EHZ, filter: "bandpass", freqmin=1.3, freqmax=2.8, corners=4', fill: '#000',
    font: '14px "' + FONT + '"', textAlign: 'left', textVerticalAlign: 'middle'}});

const arrivalLines = ['First Arrivals at ' + firstArrivalStation].concat(
  phaseNames.map((n, k) => n + ' time: ' + phaseTimes[k].toFixed(2) + 's'));
const arrivalColors = ['#000'].concat(arrivalTextColors);
arrivalLines.forEach((s, k) => graphics.push({type: 'text', x: 1521, y: 1051.5 + k * 14,
  style: {text: s, fill: arrivalColors[k], font: '13.6px "' + FONT + '"', textAlign: 'left', textVerticalAlign: 'middle'}}));

const chart = echarts.init(document.getElementById('c'), null, {renderer: 'canvas', width: 1900, height: 1100});
chart.setOption({
  animation: false,
  backgroundColor: '#fff',
  grid: grids,
  xAxis: xAxes,
  yAxis: yAxes,
  series: series,
  graphic: graphics
});
</script>
</body>
</html>
